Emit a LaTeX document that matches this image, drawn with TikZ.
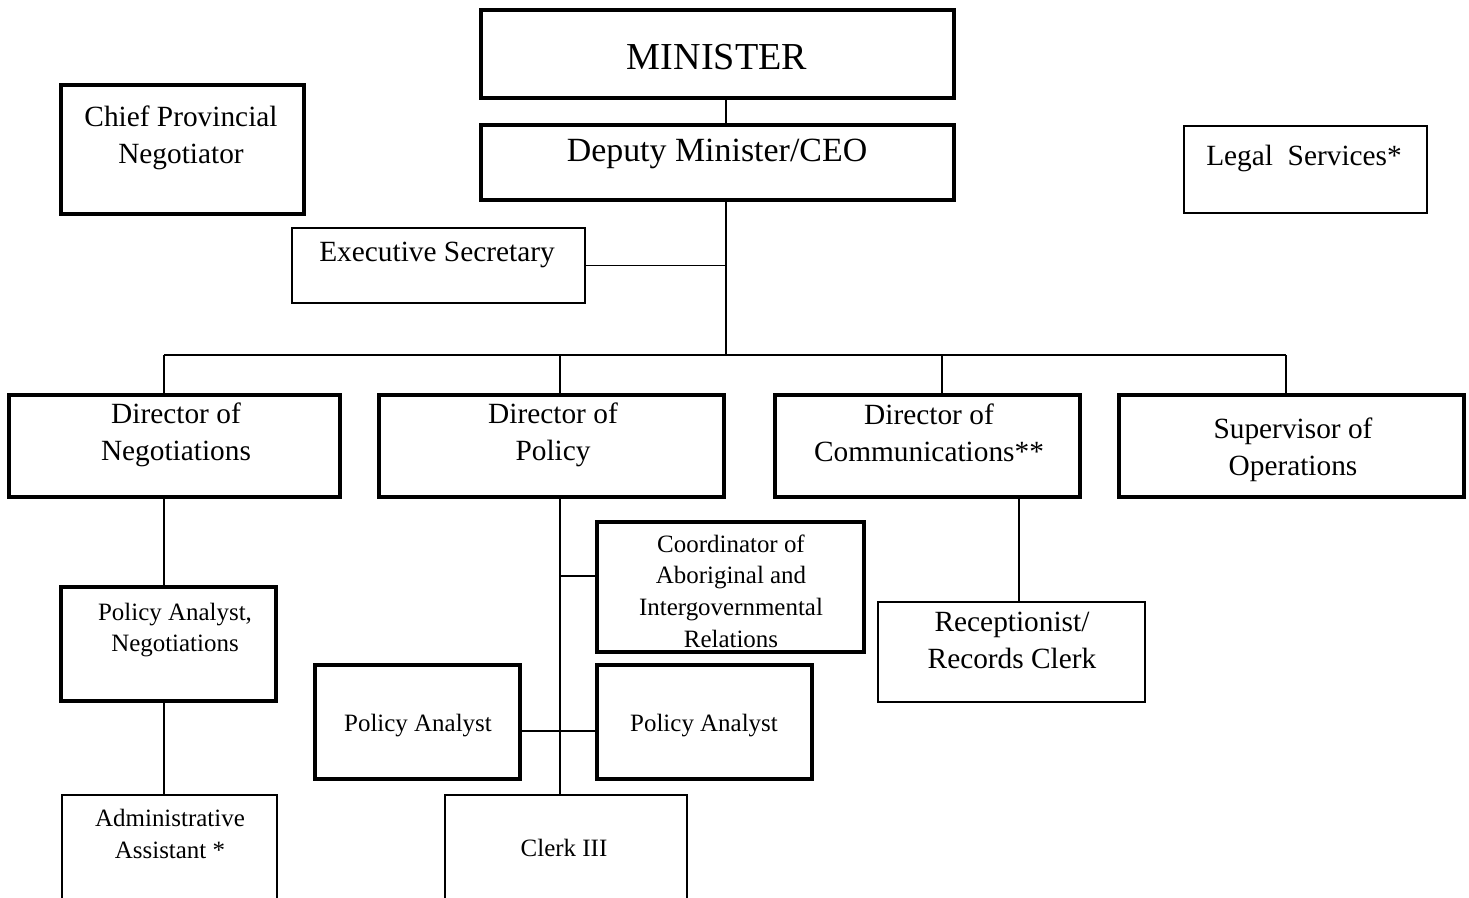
\documentclass[tikz,border=0pt]{standalone}
\usepackage{fontspec}
\setmainfont{Liberation Serif}
\usetikzlibrary{fit}

\begin{document}
\begin{tikzpicture}[
  x=0.02cm, y=-0.02cm,
  thickbox/.style={draw, line width=2.2pt, inner sep=0pt},
  thinbox/.style={draw, line width=1.1pt, inner sep=0pt},
  bigtxt/.style={font=\fontsize{16.7}{21}\selectfont, align=center},
  smalltxt/.style={font=\fontsize{14.2}{18}\selectfont, align=center},
  link/.style={line width=1.1pt}
]

% Page frame (pixel grid, y pointing down)
\useasboundingbox (0,0) rectangle (1469,897);

% ── Top level ──
\node[thickbox, fit={(481,10) (954,98)}] (min) {};
\node[font=\fontsize{21.7}{26}\selectfont] (min-t) at (717,57) {MINISTER};

\node[thickbox, fit={(481,125) (954,200)}] (dep) {};
\node[font=\fontsize{19.3}{24}\selectfont] (dep-t) at (717,154) {Deputy Minister/CEO};

\node[thickbox, fit={(61,85) (304,214)}] (cpn) {};
\node[bigtxt] (cpn-t) at (181,138) {Chief Provincial\\Negotiator};

\node[thinbox, fit={(1184,126) (1427,213)}] (leg) {};
\node[bigtxt] (leg-t) at (1304,158) {Legal\hspace{0.5em}Services*};

\node[thinbox, fit={(292,228) (585,303)}] (exs) {};
\node[bigtxt] (exs-t) at (437,255) {Executive Secretary};

% ── Directors ──
\node[thickbox, fit={(9,395) (340,497)}] (dne) {};
\node[bigtxt] (dne-t) at (176,434.5) {Director of\\Negotiations};

\node[thickbox, fit={(379,395) (724,497)}] (dpo) {};
\node[bigtxt] (dpo-t) at (553,434.5) {Director of\\Policy};

\node[thickbox, fit={(775,395) (1080,497)}] (dco) {};
\node[bigtxt] (dco-t) at (929,433) {Director of\\Communications**};

\node[thickbox, fit={(1119,395) (1464,497)}] (sup) {};
\node[bigtxt] (sup-t) at (1293,450) {Supervisor of\\Operations};

% ── Staff ──
\node[thickbox, fit={(61,587) (276,701)}] (pan) {};
\node[smalltxt] (pan-t) at (175,630) {Policy Analyst,\\Negotiations};

\node[thinbox, fit={(62,795) (277,902)}] (adm) {};
\node[smalltxt] (adm-t) at (170,834) {Administrative\\Assistant *};

\node[thickbox, fit={(597,522) (864,652)}] (coo) {};
\node[smalltxt] (coo-t) at (731,591) {Coordinator of\\Aboriginal and\\Intergovernmental\\Relations};

\node[thickbox, fit={(315,665) (520,779)}] (pal) {};
\node[smalltxt] (pal-t) at (418,726) {Policy Analyst};

\node[thickbox, fit={(597,665) (812,779)}] (par) {};
\node[smalltxt] (par-t) at (704,726) {Policy Analyst};

\node[thinbox, fit={(445,795) (687,902)}] (clk) {};
\node[smalltxt] (clk-t) at (564,848) {Clerk III};

\node[thinbox, fit={(878,602) (1145,702)}] (rec) {};
\node[bigtxt] (rec-t) at (1012,640) {Receptionist/\\Records Clerk};

% ── Connectors ──
\coordinate (spine) at (726,355);
\coordinate (bus-a) at (164,355);
\coordinate (bus-b) at (560,355);
\coordinate (bus-c) at (942,355);
\coordinate (bus-d) at (1286,355);
\coordinate (com-x) at (1019,497);
\coordinate (pol-c) at (560,576);
\coordinate (pol-p) at (560,731);

\draw[link] (min.south -| spine) -- (dep.north -| spine);
\draw[link] (dep.south -| spine) -- (spine);
\draw[link] (exs.east) -- (exs.east -| spine);
\draw[link] (bus-a) -- (bus-d);
\foreach \c in {a,b,c,d}
  \draw[link] (bus-\c) -- (bus-\c |- dne.north);

% Negotiations branch
\draw[link] (bus-a |- dne.south) -- (bus-a |- pan.north);
\draw[link] (bus-a |- pan.south) -- (bus-a |- adm.north);

% Policy branch
\draw[link] (bus-b |- dpo.south) -- (bus-b |- clk.north);
\draw[link] (pol-c) -- (pol-c -| coo.west);
\draw[link] (pol-p -| pal.east) -- (pol-p -| par.west);

% Communications branch
\draw[link] (com-x) -- (com-x |- rec.north);

\end{tikzpicture}
\end{document}
